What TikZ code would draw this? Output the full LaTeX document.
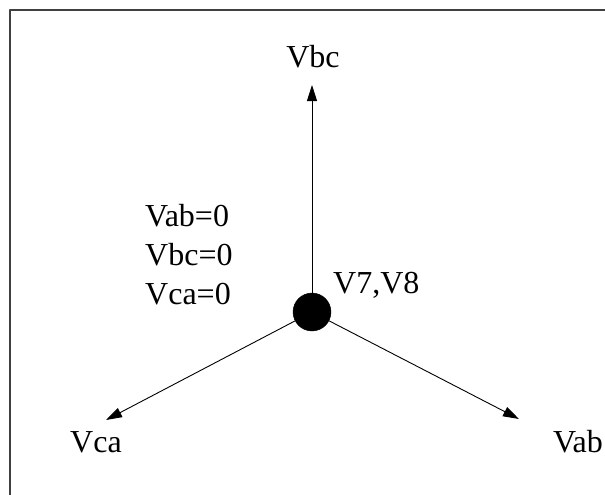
\documentclass[tikz,border=0pt]{standalone}
\usepackage{fontspec}
\setmainfont{Liberation Serif}
\usetikzlibrary{arrows.meta}
\begin{document}
\begin{tikzpicture}[x=1pt,y=-1pt,>={Triangle[length=16pt,width=10pt]}, font=\fontsize{32}{38}\selectfont, line join=round]
				\useasboundingbox (0,0) rectangle (605,495);
				\draw [line width=1.6pt, black!75] (10,10) rectangle (640,530);
				\node (o) [circle, fill=black, draw, minimum size=38pt, inner sep=0pt] at (312,312) {};
				\coordinate (bc) at (312,85);
				\coordinate (ab) at (519,419);
				\coordinate (ca) at (106,420);
				\draw [->, line width=0.9pt] (o) -- (bc);
				\draw [->, line width=0.9pt] (o) -- (ab);
				\draw [->, line width=0.9pt] (o) -- (ca);
				\path (313,67) node[anchor=base] (lbc) {Vbc}
					(578,452) node[anchor=base] (lab) {Vab}
					(96,452) node[anchor=base] (lca) {Vca}
					(333,293) node[anchor=base west, inner sep=0pt] (lo) {V7,V8};
				\foreach \t/\y in {Vab/226,Vbc/265,Vca/304}
					\node[anchor=base west, inner sep=0pt] (z\t) at (145,\y) {\t=0};
			\end{tikzpicture}
\end{document}
